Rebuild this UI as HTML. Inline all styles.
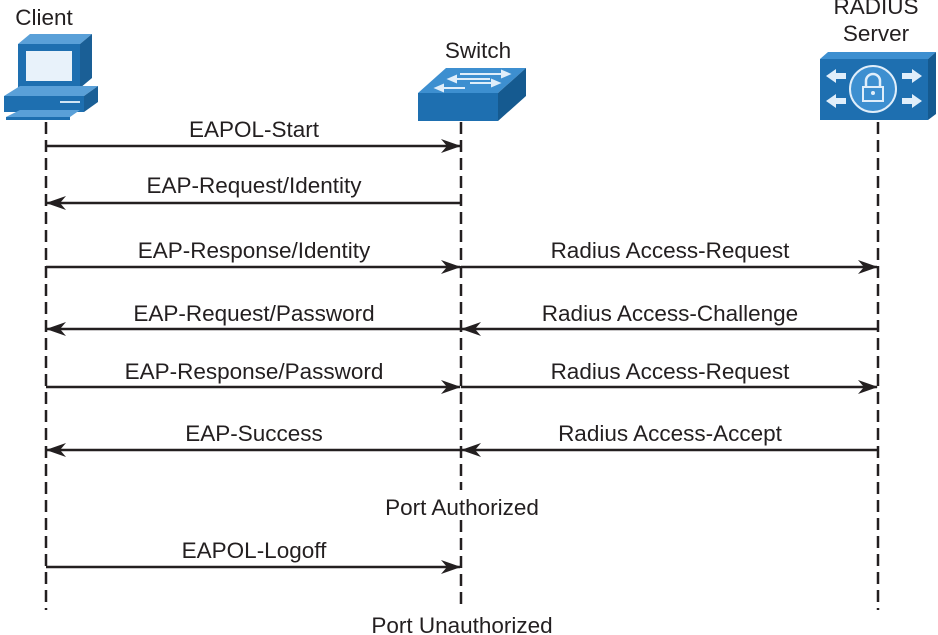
<!DOCTYPE html>
<html><head><meta charset="utf-8"><style>
html,body{margin:0;padding:0;background:#fff}
svg{display:block}
text{font-family:"Liberation Sans",sans-serif;font-size:22.5px;fill:#231f20;text-anchor:middle}
</style></head><body>
<svg width="938" height="635" viewBox="0 0 938 635">
<defs>
<marker id="ah" markerWidth="20" markerHeight="14" refX="19" refY="7" orient="auto" markerUnits="userSpaceOnUse">
<path d="M0,0 L20,7 L0,14 L6,7 Z" fill="#231f20"/>
</marker>
</defs>
<g stroke="#231f20" stroke-width="2.5" stroke-dasharray="12,6" fill="none">
<line x1="46" y1="122" x2="46" y2="610"/>
<line x1="461" y1="122" x2="461" y2="490"/>
<line x1="461" y1="520" x2="461" y2="610"/>
<line x1="878" y1="122" x2="878" y2="610"/>
</g>
<g stroke="#231f20" stroke-width="2.5" marker-end="url(#ah)">
<line x1="46" y1="146" x2="460" y2="146"/>
<line x1="461" y1="203" x2="47" y2="203"/>
<line x1="46" y1="267" x2="460" y2="267"/>
<line x1="461" y1="267" x2="877" y2="267"/>
<line x1="461" y1="329" x2="47" y2="329"/>
<line x1="878" y1="329" x2="462" y2="329"/>
<line x1="46" y1="387" x2="460" y2="387"/>
<line x1="461" y1="387" x2="877" y2="387"/>
<line x1="461" y1="450" x2="47" y2="450"/>
<line x1="878" y1="450" x2="462" y2="450"/>
<line x1="46" y1="567" x2="460" y2="567"/>
</g>
<text x="254" y="137">EAPOL-Start</text>
<text x="254" y="193">EAP-Request/Identity</text>
<text x="254" y="258">EAP-Response/Identity</text>
<text x="670" y="258">Radius Access-Request</text>
<text x="254" y="321">EAP-Request/Password</text>
<text x="670" y="321">Radius Access-Challenge</text>
<text x="254" y="379">EAP-Response/Password</text>
<text x="670" y="379">Radius Access-Request</text>
<text x="254" y="441">EAP-Success</text>
<text x="670" y="441">Radius Access-Accept</text>
<text x="462" y="515">Port Authorized</text>
<text x="254" y="558">EAPOL-Logoff</text>
<text x="462" y="633">Port Unauthorized</text>
<text x="44" y="25">Client</text>
<text x="478" y="58">Switch</text>
<text x="876" y="14">RADIUS</text>
<text x="876" y="41">Server</text>
<g>
<polygon points="18,44 30,34 92,34 80,44" fill="#5aa0d8"/>
<polygon points="80,44 92,34 92,78 80,88" fill="#1a5f96"/>
<rect x="18" y="44" width="62" height="44" fill="#1e6fb0"/>
<rect x="25" y="50" width="48" height="32" fill="#e8f2fa" stroke="#1e6fb0" stroke-width="2"/>
<polygon points="4,96 20,86 98,86 84,96" fill="#5aa0d8"/>
<polygon points="84,96 98,86 98,102 84,112" fill="#1a5f96"/>
<rect x="4" y="96" width="80" height="16" fill="#1e6fb0"/>
<line x1="60" y1="102" x2="80" y2="102" stroke="#cfe4f4" stroke-width="2"/>
<polygon points="6,117 20,110 80,110 70,117" fill="#5aa0d8"/>
<rect x="6" y="117" width="64" height="3" fill="#1e6fb0"/>
</g>
<g>
<polygon points="418,93 446,68 526,68 498,93" fill="#3d8fd0"/>
<polygon points="498,93 526,68 526,96 498,121" fill="#155a90"/>
<rect x="418" y="93" width="80" height="28" fill="#1e6fb0"/>
<g stroke="#e0eefa" stroke-width="2" fill="#e0eefa">
<line x1="460" y1="74" x2="505" y2="74"/><polygon points="509,74 502,71 502,77"/>
<line x1="453" y1="79" x2="490" y2="79"/><polygon points="449,79 456,76 456,82"/>
<line x1="470" y1="83" x2="495" y2="83"/><polygon points="499,83 492,80 492,86"/>
<line x1="440" y1="88" x2="465" y2="88"/><polygon points="436,88 443,85 443,91"/>
</g>
</g>
<g>
<polygon points="820,59 828,52 936,52 928,59" fill="#3d8fd0"/>
<polygon points="928,59 936,52 936,114 928,120" fill="#155a90"/>
<rect x="820" y="59" width="108" height="61" fill="#1e6fb0"/>
<circle cx="873" cy="89" r="23" fill="#3d8fd0" stroke="#e0eefa" stroke-width="2"/>
<path d="M866,87 v-6 a7,7 0 0 1 14,0 v6" fill="none" stroke="#e0eefa" stroke-width="2.5"/>
<rect x="863" y="87" width="20" height="14" fill="none" stroke="#e0eefa" stroke-width="2"/>
<circle cx="873" cy="93" r="2" fill="#e0eefa"/>
<g fill="#e0eefa">
<polygon points="826,76 836,69 836,73 846,73 846,79 836,79 836,83"/>
<polygon points="826,101 836,94 836,98 846,98 846,104 836,104 836,108"/>
<polygon points="922,76 912,69 912,73 902,73 902,79 912,79 912,83"/>
<polygon points="922,101 912,94 912,98 902,98 902,104 912,104 912,108"/>
</g>
</g>
</svg>
</body></html>
